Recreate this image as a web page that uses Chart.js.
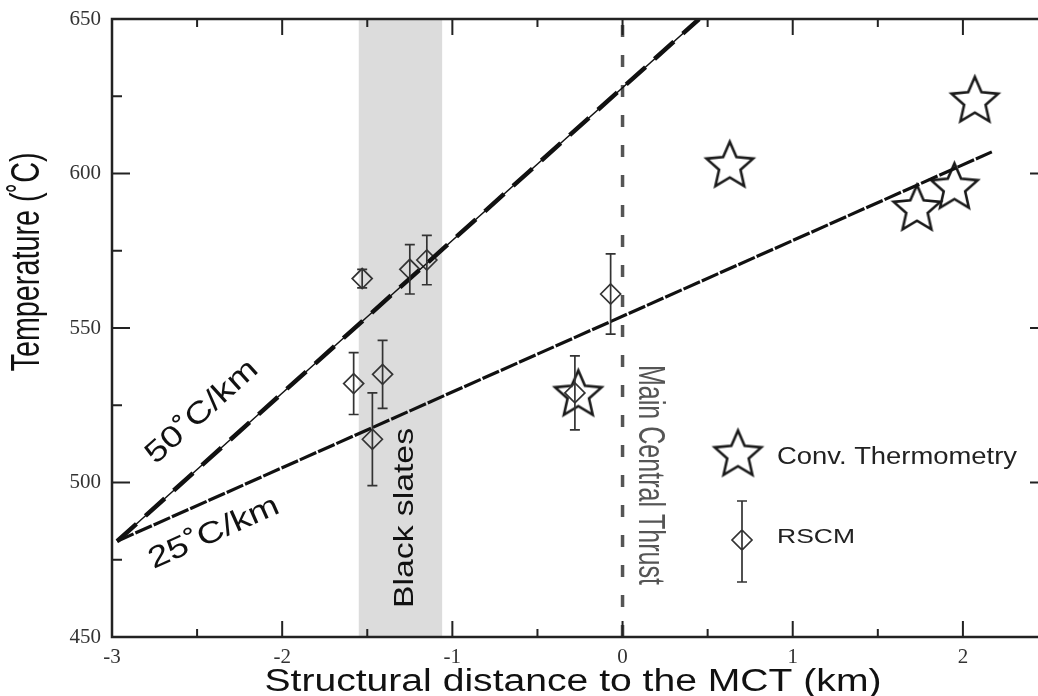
<!DOCTYPE html>
<html>
<head>
<meta charset="utf-8">
<script src="https://cdn.jsdelivr.net/npm/chart.js@4.4.1/dist/chart.umd.min.js"></script>
<style>
  html, body { margin: 0; padding: 0; background: #fff; overflow: hidden; }
  canvas { display: block; }
</style>
</head>
<body>
<canvas id="chart" width="1050" height="696"></canvas>
<script>
// RSCM temperatures (diamonds + error bars)
const rscmDist = [-1.53, -1.25, -1.15, -1.58, -1.41, -1.47, -0.07, -0.28];
const rscmTemp = [566, 569, 572, 532, 535, 514, 561, 529];
const rscmErr = [3, 8, 8, 10, 11, 15, 13, 12];

// conventional thermometry (stars)
const convDist = [-0.26, 0.63, 1.73, 1.95, 2.07];
const convTemp = [529, 603, 589, 596, 624];

// geotherms
const grad50Dist = [-2.97, 0.45];
const grad50Temp = [481, 650];
const grad25Dist = [-2.97, 2.17];
const grad25Temp = [481, 607];

// MCT position and black slates band
const mctDist = [0, 0];
const mctTemp = [450, 650];
const slatesBand = [-1.55, -1.06];

// axes
const xRange = [-3, 2.5];
const yRange = [450, 650];
const xStep = 0.5;   // minor, labels on integers
const yStep = 25;    // minor, labels every 50

const pts = (xs, ys) => xs.map((x, i) => ({ x: x, y: ys[i] }));

// 5 point outline star used as point style
function makeStar(r, lw) {
  const s = Math.ceil(2 * r + 2 * lw + 2);
  const c = document.createElement('canvas');
  c.width = s; c.height = s;
  const g = c.getContext('2d');
  g.translate(s / 2, s / 2 + r * 0.08);
  g.beginPath();
  for (let i = 0; i < 10; i++) {
    const rad = i % 2 ? r * 0.46 : r;
    const a = -Math.PI / 2 + i * Math.PI / 5;
    g.lineTo(Math.cos(a) * rad, Math.sin(a) * rad);
  }
  g.closePath();
  g.strokeStyle = '#1a1a1a';
  g.lineWidth = lw;
  g.stroke();
  return c;
}
const star = makeStar(24.5, 2.6);

function stretchText(ctx, s, cx, cy, ang, font, len, color) {
  ctx.save();
  ctx.font = font;
  const w = ctx.measureText(s).width;
  ctx.translate(cx, cy);
  ctx.rotate(ang);
  ctx.scale(len / w, 1);
  ctx.fillStyle = color;
  ctx.textAlign = 'center';
  ctx.textBaseline = 'middle';
  ctx.fillText(s, 0, 0);
  ctx.restore();
}

const sans = '"Liberation Sans", Arial, sans-serif';

const decor = {
  id: 'decor',
  beforeDatasetsDraw(chart) {
    const { ctx, chartArea: a, scales: { x } } = chart;
    const l = x.getPixelForValue(slatesBand[0]);
    const r = x.getPixelForValue(slatesBand[1]);
    ctx.save();
    ctx.fillStyle = '#dcdcdc';
    ctx.fillRect(l, a.top, r - l, a.bottom - a.top);
    ctx.restore();
  },
  afterDatasetsDraw(chart) {
    const { ctx, scales: { y } } = chart;
    const meta = chart.getDatasetMeta(4);
    ctx.save();
    ctx.strokeStyle = '#333';
    ctx.lineWidth = 1.7;
    ctx.beginPath();
    meta.data.forEach((pt, i) => {
      const t = y.getPixelForValue(rscmTemp[i] + rscmErr[i]);
      const b = y.getPixelForValue(rscmTemp[i] - rscmErr[i]);
      ctx.moveTo(pt.x, t); ctx.lineTo(pt.x, b);
      ctx.moveTo(pt.x - 5, t); ctx.lineTo(pt.x + 5, t);
      ctx.moveTo(pt.x - 5, b); ctx.lineTo(pt.x + 5, b);
    });
    ctx.stroke();
    ctx.restore();
  },
  afterDraw(chart) {
    const { ctx, chartArea: a, scales: { x, y } } = chart;
    ctx.save();
    // frame
    ctx.strokeStyle = '#222';
    ctx.lineWidth = 2.5;
    ctx.strokeRect(a.left, a.top, a.right - a.left, a.bottom - a.top);
    // inward ticks on all four sides
    ctx.lineWidth = 2;
    ctx.beginPath();
    x.ticks.forEach(t => {
      const px = x.getPixelForValue(t.value);
      const len = Number.isInteger(t.value) ? 16 : 8;
      ctx.moveTo(px, a.bottom); ctx.lineTo(px, a.bottom - len);
      ctx.moveTo(px, a.top); ctx.lineTo(px, a.top + len);
    });
    y.ticks.forEach(t => {
      const py = y.getPixelForValue(t.value);
      const len = t.value % 50 === 0 ? 18 : 10;
      ctx.moveTo(a.left, py); ctx.lineTo(a.left + len, py);
      ctx.moveTo(a.right, py); ctx.lineTo(a.right - len, py);
    });
    ctx.stroke();

    // axis titles
    stretchText(ctx, 'Temperature (˚C)', 28, 262, -Math.PI / 2, '40px ' + sans, 219, '#111');
    stretchText(ctx, 'Structural distance to the MCT (km)', 573, 682, 0, '31px ' + sans, 617, '#111');

    // in-plot labels
    const a50 = Math.atan2(y.getPixelForValue(grad50Temp[1]) - y.getPixelForValue(grad50Temp[0]),
      x.getPixelForValue(grad50Dist[1]) - x.getPixelForValue(grad50Dist[0]));
    const a25 = Math.atan2(y.getPixelForValue(grad25Temp[1]) - y.getPixelForValue(grad25Temp[0]),
      x.getPixelForValue(grad25Dist[1]) - x.getPixelForValue(grad25Dist[0]));
    stretchText(ctx, '50˚C/km', 202, 412, a50, '30px ' + sans, 140, '#111');
    stretchText(ctx, '25˚C/km', 214, 533, a25, '30px ' + sans, 140, '#111');
    stretchText(ctx, 'Black slates', 405, 518, -Math.PI / 2, '28px ' + sans, 180, '#111');
    stretchText(ctx, 'Main Central Thrust', 649, 475, Math.PI / 2, '36px ' + sans, 220, '#555');

    // legend
    ctx.drawImage(star, 738 - star.width / 2, 453 - star.height / 2);
    ctx.strokeStyle = '#333';
    ctx.lineWidth = 1.7;
    ctx.beginPath();
    ctx.moveTo(742, 501); ctx.lineTo(742, 582);
    ctx.moveTo(737, 501); ctx.lineTo(747, 501);
    ctx.moveTo(737, 582); ctx.lineTo(747, 582);
    ctx.moveTo(742, 530); ctx.lineTo(752, 540); ctx.lineTo(742, 550); ctx.lineTo(732, 540); ctx.closePath();
    ctx.stroke();
    stretchText(ctx, 'Conv. Thermometry', 897, 458, 0, '23px ' + sans, 240, '#222');
    stretchText(ctx, 'RSCM', 816, 537, 0, '21px ' + sans, 78, '#222');
    ctx.restore();
  }
};

new Chart(document.getElementById('chart'), {
  type: 'scatter',
  data: {
    datasets: [
      { data: pts(grad50Dist, grad50Temp), showLine: true, borderColor: '#111', borderWidth: 1.5, pointRadius: 0 },
      { data: pts(grad50Dist, grad50Temp), showLine: true, borderColor: '#111', borderWidth: 4.5, borderDash: [26, 12], pointRadius: 0 },
      { data: pts(grad25Dist, grad25Temp), showLine: true, borderColor: '#111', borderWidth: 3.2, borderDash: [18, 2], pointRadius: 0 },
      { data: pts(mctDist, mctTemp), showLine: true, borderColor: '#555', borderWidth: 3.5, borderDash: [12, 18], pointRadius: 0 },
      { data: pts(rscmDist, rscmTemp), pointStyle: 'rectRot', pointRadius: 10, borderColor: '#333', borderWidth: 1.7, backgroundColor: 'rgba(0,0,0,0)' },
      { data: pts(convDist, convTemp), pointStyle: star, pointRadius: 24 }
    ]
  },
  options: {
    responsive: false,
    animation: false,
    layout: { autoPadding: false, padding: { top: 19, right: 2, left: 0, bottom: 0 } },
    plugins: { legend: { display: false }, tooltip: { enabled: false } },
    scales: {
      x: {
        type: 'linear', min: xRange[0], max: xRange[1],
        grid: { display: false, drawTicks: false }, border: { display: false },
        afterFit: s => { s.height = 59; s.paddingLeft = 0; s.paddingRight = 0; },
        ticks: {
          stepSize: xStep, autoSkip: false, maxRotation: 0, padding: 8, color: '#333',
          font: { family: '"Liberation Serif", serif', size: 21 },
          callback: v => Number.isInteger(v) ? String(v) : ''
        }
      },
      y: {
        type: 'linear', min: yRange[0], max: yRange[1],
        grid: { display: false, drawTicks: false }, border: { display: false },
        afterFit: s => { s.width = 112; s.paddingTop = 0; s.paddingBottom = 0; },
        ticks: {
          stepSize: yStep, autoSkip: false, padding: 11, color: '#333',
          font: { family: '"Liberation Serif", serif', size: 21 },
          callback: v => v % 50 === 0 ? String(v) : ''
        }
      }
    }
  },
  plugins: [decor]
});
</script>
</body>
</html>
